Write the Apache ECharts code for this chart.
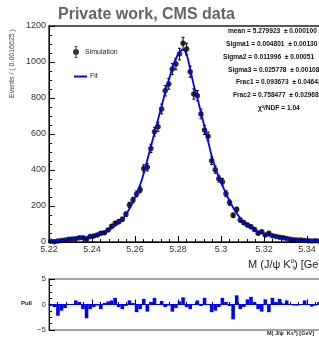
<!DOCTYPE html>
<html>
<head>
<meta charset="utf-8">
<script src="https://cdn.jsdelivr.net/npm/echarts@6/dist/echarts.min.js"></script>
<style>
html,body{margin:0;padding:0;background:#fff;}
#chart{width:319px;height:337px;}
</style>
</head>
<body>
<div id="chart"></div>
<script>
// ---- data ----
const binStart = 5.22;          // first bin edge (GeV)
const binWidth = 0.0016625;     // bin width (GeV)
const xMax = 5.353;             // last bin edge
const xTicks = [5.22, 5.24, 5.26, 5.28, 5.30, 5.32, 5.34];

const counts = [
  4, 2, 6, 9, 11, 15, 17, 18, 24, 24,
  15, 30, 34, 39, 48, 52, 67, 88, 104, 113,
  126, 154, 206, 233, 267, 290, 409, 415, 520, 613,
  640, 739, 840, 878, 961, 989, 1044, 1104, 1072, 946,
  822, 813, 711, 622, 587, 452, 402, 352, 335, 268,
  219, 148, 180, 122, 107, 94, 85, 70, 48, 57,
  39, 48, 35, 30, 26, 24, 20, 15, 13, 11,
  11, 8, 7, 6, 7, 5, 5, 4, 3, 3
];

// fit curve read at bin centres, plus its values at the two range edges
const fitLeftEdge = 6;
const fitValues = [
  6, 7, 8, 10, 12, 14, 16, 18, 21, 24,
  27, 31, 35, 40, 46, 53, 63, 75, 90, 105,
  125, 152, 185, 225, 268, 318, 380, 455, 530, 605,
  680, 755, 830, 900, 965, 1020, 1055, 1068, 1040, 960,
  870, 800, 720, 640, 560, 478, 415, 360, 315, 270,
  228, 192, 160, 133, 111, 94, 80, 68, 58, 49,
  42, 36, 31, 27, 23, 20, 17, 15, 13, 11,
  10, 9, 8, 7, 6, 5, 5, 4, 4, 3
];
const fitRightEdge = 3;

const pulls = [
  -0.3, -0.5, -2.2, -1.2, -0.7, -0.1, -0.1, 0.8, 0.5, -0.9,
  -2.7, -0.9, -0.5, -0.2, -0.9, 0.3, 0.6, 0.8, 1.3, -0.5,
  -0.9, -0.3, 0.8, 0.3, -1.5, -0.9, 1.1, -1.4, 0.5, 1.3,
  0.1, 0.7, -0.5, -0.2, -1.4, -0.7, 0.6, 1.4, -0.5, -0.9,
  -0.1, 0.8, -0.3, 1.3, 0.0, -1.5, -1.2, -0.5, 1.3, 0.5,
  -0.3, -2.9, 1.8, -0.9, -0.5, 1.0, 1.5, 0.5, -0.9, -1.4,
  1.0, -1.5, 1.3, 0.5, 1.1, 0.2, 0.8, 0.0, -0.2, -0.2,
  0.1, 0.8, 0.0, -0.4, -0.2, 0.5, 0.6, 0.3, -0.2, 0.4
];

const statLines = [
  'mean = 5.279923  ± 0.000100',
  'Sigma1 = 0.004801  ± 0.00130',
  'Sigma2 = 0.011996  ± 0.00051',
  'Sigma3 = 0.025778  ± 0.00108',
  'Frac1 = 0.093673  ± 0.046426',
  'Frac2 = 0.758477  ± 0.029689',
  'χ²/NDF = 1.04'
];

// ---- build ----
const FONT = 'Liberation Sans';
const centers = counts.map((_, i) => binStart + (i + 0.5) * binWidth);
const pointData = counts.map((c, i) => [centers[i], c]);
const errData = counts.map((c, i) => [centers[i], c, Math.sqrt(c)]); // Poisson errors
const fitData = [[binStart, fitLeftEdge]].concat(fitValues.map((v, i) => [centers[i], v]), [[xMax, fitRightEdge]]);
const pullData = pulls.map((p, i) => [centers[i], p]);

const chart = echarts.init(document.getElementById('chart'), null, {renderer: 'canvas'});

const statX = [228, 226, 223, 228, 236, 233, 258];
const statY = [32, 45, 58, 70.5, 83, 96, 108.5];
const statGraphics = statLines.map((t, i) => ({
  type: 'text', left: statX[i], top: statY[i] - 4,
  style: {text: t, font: 'bold 6.6px ' + FONT, fill: '#111'}
}));

function fmtTick(v) {
  return (Math.round(v * 100) / 100).toString();
}

const option = {
  animation: false,
  backgroundColor: '#fff',
  textStyle: {fontFamily: FONT},
  title: {
    text: 'Private work, CMS data',
    left: 53, top: 2,
    textStyle: {fontFamily: FONT, fontSize: 16, fontWeight: 'bold', color: '#646464'}
  },
  legend: [
    {
      orient: 'vertical', left: 68, top: 41,
      itemWidth: 14, itemHeight: 12,
      textStyle: {fontFamily: FONT, fontSize: 7, color: '#222', padding: [0, 0, 0, -3]},
      data: [
        {name: 'Simulation', icon: 'path://M4.6,0H5.4V10H4.6Z M3.6,0H6.4V0.7H3.6Z M3.6,9.3H6.4V10H3.6Z M7.5,5A2.5,2.5 0 1,1 2.5,5A2.5,2.5 0 1,1 7.5,5Z'}
      ]
    },
    {
      orient: 'vertical', left: 69, top: 68,
      itemWidth: 13, itemHeight: 2,
      textStyle: {fontFamily: FONT, fontSize: 7, color: '#222', padding: [0, 0, 0, -2]},
      data: [{name: 'Fit', icon: 'rect'}]
    }
  ],
  grid: [
    {left: 49, top: 26, width: 286, height: 216, outerBoundsMode: 'none', containLabel: false, show: true, borderColor: '#222', borderWidth: 1.3, backgroundColor: 'transparent'},
    {left: 49, top: 279, width: 286, height: 51, outerBoundsMode: 'none', containLabel: false, show: true, borderColor: '#888', borderWidth: 1.6, backgroundColor: 'transparent'}
  ],
  xAxis: [
    {
      type: 'value', gridIndex: 0, min: binStart, max: xMax, interval: 0.02,
      axisLine: {lineStyle: {color: '#000', width: 1}},
      axisTick: {inside: true, length: 6, lineStyle: {color: '#000'}},
      minorTick: {show: true, splitNumber: 5, length: 3, lineStyle: {color: '#000'}},
      splitLine: {show: false},
      axisLabel: {fontFamily: FONT, fontSize: 9, color: '#333', margin: 3, formatter: fmtTick, showMaxLabel: false, hideOverlap: false}
    },
    {
      type: 'value', gridIndex: 1, min: binStart, max: xMax, interval: 0.02,
      axisLine: {lineStyle: {color: '#000', width: 1}},
      axisTick: {inside: true, length: 5, lineStyle: {color: '#000'}},
      minorTick: {show: true, splitNumber: 5, length: 2.5, lineStyle: {color: '#000'}},
      splitLine: {show: false},
      axisLabel: {show: false}
    }
  ],
  yAxis: [
    {
      type: 'value', gridIndex: 0, min: 0, max: 1200, interval: 200,
      axisLine: {show: true, lineStyle: {color: '#000', width: 1}},
      axisTick: {show: true, inside: true, length: 6, lineStyle: {color: '#000'}},
      minorTick: {show: true, splitNumber: 4, length: 3, lineStyle: {color: '#000'}},
      splitLine: {show: false},
      axisLabel: {fontFamily: FONT, fontSize: 9, color: '#333', margin: 3, formatter: v => String(v)}
    },
    {
      type: 'value', gridIndex: 1, min: -5, max: 5, interval: 5,
      axisLine: {show: true, lineStyle: {color: '#000', width: 1}},
      axisTick: {show: true, inside: true, length: 6, lineStyle: {color: '#000'}},
      minorTick: {show: true, splitNumber: 4, length: 3, lineStyle: {color: '#000'}},
      splitLine: {show: false},
      axisLabel: {fontFamily: FONT, fontSize: 8, color: '#333', margin: 3,
        formatter: v => v < 0 ? '\u2212' + Math.abs(v) : String(v)}
    }
  ],
  series: [
    {
      type: 'custom', name: 'errors', xAxisIndex: 0, yAxisIndex: 0, z: 3, clip: true,
      data: errData,
      renderItem: function (params, api) {
        const x = api.value(0), y = api.value(1), e = api.value(2);
        const top = api.coord([x, y + e]);
        const bot = api.coord([x, Math.max(0, y - e)]);
        const cap = 1.5;
        return {
          type: 'group',
          children: [
            {type: 'line', shape: {x1: top[0], y1: top[1], x2: bot[0], y2: bot[1]}, style: {stroke: '#000', lineWidth: 1}},
            {type: 'line', shape: {x1: top[0] - cap, y1: top[1], x2: top[0] + cap, y2: top[1]}, style: {stroke: '#000', lineWidth: 1}},
            {type: 'line', shape: {x1: bot[0] - cap, y1: bot[1], x2: bot[0] + cap, y2: bot[1]}, style: {stroke: '#000', lineWidth: 1}}
          ]
        };
      }
    },
    {
      type: 'scatter', name: 'Simulation', xAxisIndex: 0, yAxisIndex: 0, z: 4,
      symbol: 'circle', symbolSize: 5.5, itemStyle: {color: '#000'},
      data: pointData
    },
    {
      type: 'line', name: 'Fit', xAxisIndex: 0, yAxisIndex: 0, z: 5,
      symbol: 'none', smooth: 0.35, data: fitData,
      lineStyle: {color: '#0000ff', width: 1.8}, itemStyle: {color: '#0000ff'}
    },
    {
      type: 'custom', name: 'Pull', xAxisIndex: 1, yAxisIndex: 1, z: 3, clip: true,
      data: pullData,
      renderItem: function (params, api) {
        const x = api.value(0), p = api.value(1);
        const a = api.coord([x - binWidth / 2, p]);
        const b = api.coord([x + binWidth / 2, 0]);
        return {
          type: 'rect',
          shape: {x: a[0], y: Math.min(a[1], b[1]), width: b[0] - a[0], height: Math.abs(b[1] - a[1])},
          style: {fill: '#0000ff'}
        };
      }
    },
    {
      type: 'line', name: 'zero', xAxisIndex: 1, yAxisIndex: 1, z: 2, symbol: 'none',
      data: [[binStart, 0], [xMax, 0]],
      lineStyle: {color: '#0000ff', width: 1}
    }
  ],
  graphic: [
    {type: 'text', x: 12, y: 63.5, rotation: Math.PI / 2,
      style: {text: 'Events / ( 0.0016625 )', font: '7px ' + FONT, fill: '#444', textAlign: 'center', textVerticalAlign: 'middle'}},
    {type: 'text', left: 248, top: 258,
      style: {
        rich: {
          a: {fontFamily: FONT, fontSize: 11, fill: '#222', lineHeight: 13},
          b: {fontFamily: FONT, fontSize: 6, fill: '#222', verticalAlign: 'top', lineHeight: 13}
        },
        text: '{a|M (J/ψ K}{b|0}{a|) [GeV]}'
      }},
    {type: 'text', left: 292.5, top: 265.5, style: {text: 's', font: '5px ' + FONT, fill: '#222'}},
    {type: 'text', left: 21, top: 300, style: {text: 'Pull', font: 'bold 6px ' + FONT, fill: '#222'}},
    {type: 'text', left: 267, top: 330,
      style: {
        rich: {
          a: {fontFamily: FONT, fontSize: 5.5, fontWeight: 'bold', fill: '#222', lineHeight: 7},
          b: {fontFamily: FONT, fontSize: 4, fontWeight: 'bold', fill: '#222', verticalAlign: 'top', lineHeight: 7}
        },
        text: '{a|M( J/ψ  Ks}{b|0}{a|) [GeV]}'
      }}
  ].concat(statGraphics)
};

chart.setOption(option);
</script>
</body>
</html>
